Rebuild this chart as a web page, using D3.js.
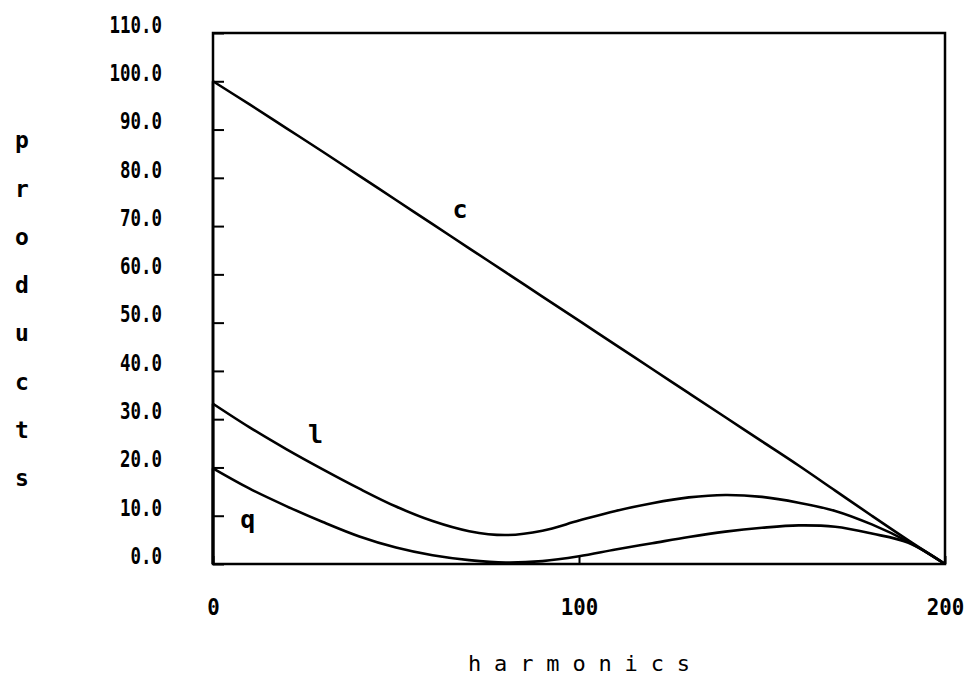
<!DOCTYPE html>
<html>
<head>
<meta charset="utf-8">
<script src="https://cdn.jsdelivr.net/npm/d3@7"></script>
<style>
  html, body { margin: 0; padding: 0; background: #fff; }
  svg text { font-family: "DejaVu Sans Mono", "Liberation Mono", monospace; fill: #000; }
</style>
</head>
<body>
<svg id="chart" width="978" height="679"></svg>
<script>
// Harmonic numbers sampled along the spectrum
const harmonics = [0, 10, 20, 30, 40, 50, 60, 70, 80, 90, 100,
                   110, 120, 130, 140, 150, 160, 170, 180, 190, 200];

// Products for each weighting
const cValues = [100, 95.2, 90.3, 85.4, 80.4, 75.4, 70.4, 65.4, 60.4, 55.4, 50.4,
                 45.4, 40.4, 35.4, 30.4, 25.4, 20.4, 15.2, 10.0, 4.9, 0];
const lValues = [33.2, 28.3, 23.8, 19.6, 15.6, 11.9, 8.9, 6.8, 6.0, 6.9, 9.0,
                 11.0, 12.6, 13.8, 14.3, 13.9, 12.7, 11.0, 8.2, 4.6, 0];
const qValues = [19.8, 15.6, 12.0, 8.7, 5.7, 3.4, 1.8, 0.8, 0.3, 0.6, 1.6,
                 3.0, 4.3, 5.6, 6.7, 7.5, 8.0, 7.7, 6.3, 4.4, 0];

const seriesNames = ["c", "l", "q"];
// Where each curve's letter sits, in data units
const labelAt = [[67.5, 73.5], [28, 27], [9.5, 9.3]];

const yTicks = [0, 10, 20, 30, 40, 50, 60, 70, 80, 90, 100, 110];
const xTicks = [0, 100, 200];
const xTitle = "harmonics";
const yTitle = "products";

const svg = d3.select("#chart");
const plotLeft = 213, plotRight = 945, plotTop = 33, plotBottom = 564;

const x = d3.scaleLinear().domain([0, 200]).range([plotLeft, plotRight]);
const y = d3.scaleLinear().domain([0, 110]).range([plotBottom, plotTop]);

// narrow, tall glyphs: fixed width per character
function squeeze(sel, perChar) {
  sel.each(function () {
    const t = d3.select(this);
    t.attr("textLength", t.text().length * perChar).attr("lengthAdjust", "spacingAndGlyphs");
  });
}

// y axis: inward ticks, labels set a little above each tick
const yAxis = svg.append("g")
  .attr("transform", `translate(${plotLeft},0)`)
  .call(d3.axisLeft(y).tickValues(yTicks).tickFormat(d3.format(".1f"))
        .tickSizeInner(-11).tickSizeOuter(0).tickPadding(51));
yAxis.select(".domain").remove();
yAxis.selectAll("line").attr("stroke", "#000").attr("stroke-width", 2);
yAxis.selectAll("text").attr("font-size", 23).attr("font-weight", "bold")
  .attr("y", -9).attr("dy", "0.36em").call(squeeze, 10.5);

// x axis
const xAxis = svg.append("g")
  .attr("transform", `translate(0,${plotBottom})`)
  .call(d3.axisBottom(x).tickValues(xTicks).tickFormat(d3.format("d"))
        .tickSizeInner(-8).tickSizeOuter(0).tickPadding(0));
xAxis.select(".domain").remove();
xAxis.selectAll("line").attr("stroke", "#000").attr("stroke-width", 2);
xAxis.selectAll("text").attr("font-size", 23).attr("font-weight", "bold")
  .attr("y", 43).attr("dy", "0.36em").call(squeeze, 12.5);

// plot frame
svg.append("rect")
  .attr("x", plotLeft).attr("y", plotTop)
  .attr("width", plotRight - plotLeft).attr("height", plotBottom - plotTop)
  .attr("fill", "none").attr("stroke", "#000").attr("stroke-width", 2.5);

// curves
const line = d3.line()
  .x((d, i) => x(harmonics[i]))
  .y(d => y(d))
  .curve(d3.curveCatmullRom.alpha(0.5));
const riser = d3.line().x(d => x(d[0])).y(d => y(d[1]));

[cValues, lValues, qValues].forEach(vals => {
  // jump from zero at the first harmonic
  svg.append("path")
    .attr("d", riser([[harmonics[0], 0], [harmonics[0], vals[0]]]))
    .attr("stroke", "#000").attr("stroke-width", 2.6);
  svg.append("path")
    .datum(vals)
    .attr("d", line)
    .attr("fill", "none")
    .attr("stroke", "#000")
    .attr("stroke-width", 2.6)
    .attr("stroke-linejoin", "round");
});

// curve letters
seriesNames.forEach((name, i) => {
  svg.append("text")
    .attr("x", x(labelAt[i][0]))
    .attr("y", y(labelAt[i][1]))
    .attr("dy", "0.36em")
    .attr("text-anchor", "middle")
    .attr("font-size", 25)
    .attr("font-weight", "bold")
    .text(name);
});

// x title, letter-spaced
svg.append("text")
  .attr("x", 468)
  .attr("y", 663)
  .attr("dy", "0.36em")
  .attr("font-size", 22)
  .attr("textLength", 222)
  .attr("lengthAdjust", "spacing")
  .text(xTitle);

// y title, one letter per row
svg.append("g").selectAll("text")
  .data(yTitle.split(""))
  .join("text")
  .attr("x", 22)
  .attr("y", (d, i) => 140 + i * 48.3)
  .attr("dy", "0.36em")
  .attr("text-anchor", "middle")
  .attr("font-size", 23)
  .attr("font-weight", "bold")
  .text(d => d);
</script>
</body>
</html>
